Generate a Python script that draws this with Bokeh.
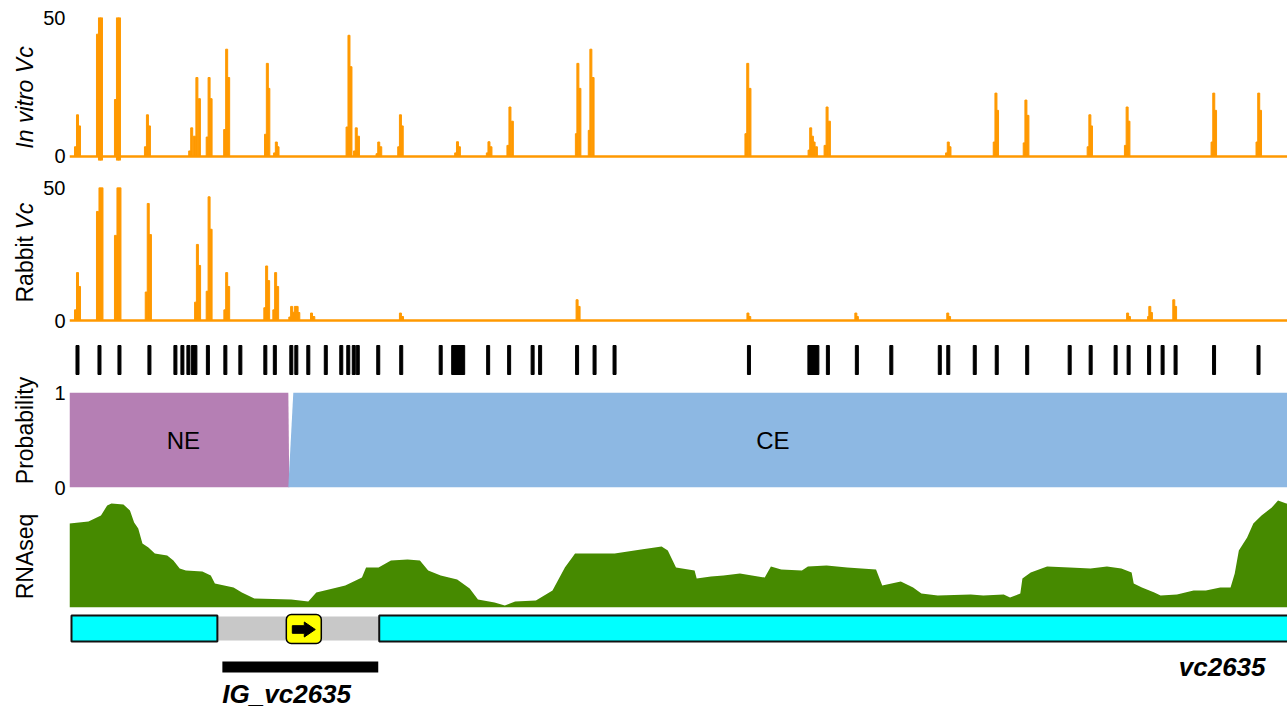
from math import pi
from bokeh.plotting import figure
from bokeh.models import Range1d, FixedTicker, Span
from bokeh.layouts import column, row
from bokeh.embed import file_html
from bokeh.resources import INLINE
from bokeh.core.properties import value

FONT = "Liberation Sans"
ORANGE = "#FF9900"
PURPLE = "#B57FB4"
BLUE = "#8DB8E3"
GREEN = "#468A00"
CYAN = "#00FFFF"
GRAY = "#C8C8C8"
YELLOW = "#FFFF00"

X_END = 1219  # locus coordinate span shown
CLIP = 50     # read-count display ceiling

# ---------------- data ----------------
# In vitro Vc insertion read counts (clipped at 50)
invitro_x = [6, 8, 10, 28, 30, 32, 46, 48, 50, 76, 78, 80,
             120.3, 122.3, 125, 127.5, 130, 137.8, 139.7, 141.7,
             155.3, 157.3, 159.3, 196.2, 198, 199.5, 205.3, 207, 208.7,
             277.8, 279.7, 281.7, 285.3, 287, 289.2, 307.8, 309.5, 311.5,
             329.5, 331.2, 333, 386.5, 388.3, 390.2, 418.2, 419.8, 421.8,
             438.8, 440.8, 443.2, 507.3, 508.8, 510.8, 520.2, 521.8, 524,
             677, 678.8, 681, 740.2, 741.8, 743.5, 745.2, 747.5,
             756.2, 758.2, 760.5, 877.8, 879.5, 881.2, 925.5, 927.2, 928.8,
             955.5, 957.2, 959.2, 1019.5, 1021.2, 1022.8, 1056.8, 1058.5, 1060.3,
             1143.5, 1145.2, 1147, 1188.5, 1190.2, 1192]
invitro_y = [3.5, 15, 11, 44, 50, 50, 20.5, 50, 50, 3.5, 15, 11,
             2, 10.3, 7.3, 28.4, 20.8, 7, 28.4, 20.8,
             9.7, 38.6, 28.4, 8, 33.5, 24.5, 1.3, 5.2, 3.5,
             10.6, 43.6, 32.3, 2, 10.3, 7.3, 1, 5.2, 3.5,
             3.5, 15, 11, 1.3, 5.3, 3.5, 1.3, 5.3, 3.5,
             4, 17.8, 12.7, 8.2, 33.5, 24.5, 9.4, 38.6, 28.4,
             8.2, 33.5, 24.5, 2.3, 10.3, 7.3, 5.2, 3.5,
             4, 17.8, 12.7, 1.3, 5.2, 3.5, 5.2, 22.8, 16.6,
             4.9, 20.3, 14.8, 3.5, 15, 11, 4, 17.8, 12.7,
             5.2, 22.8, 16.6, 5.2, 22.8, 16.6]

# Rabbit Vc insertion read counts (clipped at 50)
rabbit_x = [6, 8, 10, 28, 30.5, 32.5, 46, 48.5, 50.5, 76.8, 78.8, 81,
            126.2, 128, 130.2, 137.8, 139.7, 141.7, 155.5, 157.3, 159.3,
            195.5, 197.3, 199.3, 204.5, 206.3, 208.3, 220.5, 222.3, 224.2,
            226, 227.8, 229.5, 242.2, 244.5, 331.2, 333.3, 508, 510,
            679, 680.8, 787, 788.5, 879, 880.8, 1059, 1060.8,
            1080, 1081.2, 1082.8, 1105.2, 1107]
rabbit_y = [4, 18, 12.8, 41, 50, 50, 32, 50, 50, 10.7, 44, 32.3,
            6.9, 28.6, 20.7, 11, 46.5, 34.3, 4, 18, 12.8,
            4.8, 20.5, 15, 4, 18, 12.8, 1.3, 5.3, 3.1,
            5.3, 5.3, 3, 2.8, 1.5, 2.8, 1.5, 7.8, 5.3,
            2.8, 1.5, 2.8, 1.5, 2.8, 1.5, 2.8, 1.5,
            1.5, 5.3, 3, 7.8, 5.3]

# TA dinucleotide sites
ta_sites = [8, 30, 50, 80, 106, 113, 119, 123.5, 126, 138.5, 156, 171, 196,
            205.5, 222, 227, 239, 256.5, 272, 279, 284.5, 288.5, 309, 332,
            371.5, 384, 386, 388, 390, 392, 394, 419, 440, 463.5, 471, 508,
            525.5, 545.5, 680, 740.5, 742.5, 744.5, 746.5, 748.5, 759, 788,
            822.5, 871, 879.5, 906, 928, 958.5, 1001, 1022, 1047, 1060,
            1080.5, 1094, 1107, 1145.5, 1190]

# HMM state probabilities
ne_x = [0, 219, 220]
ne_p = [1, 1, 0]
ce_x = [219, 224, X_END]
ce_p = [0, 1, 1]
state_labels = ["NE", "CE"]
state_label_x = [114, 704]

# RNAseq coverage (relative)
rna_x = [0, 19, 31.5, 37.7, 42, 54, 60.5, 64.7, 68.8, 73, 79, 85.4, 97.8, 104,
         110.3, 116.5, 133, 141.4, 145.5, 164.2, 172.5, 185, 222, 239, 247,
         263.7, 276, 292.7, 296.8, 309.3, 321.7, 338.3, 350.7, 359, 371.5, 388,
         400.5, 408.8, 425.4, 435.7, 446, 466.8, 483.4, 495.8, 506, 545.6, 572,
         592.6, 598.8, 607, 625.6, 627.7, 642, 654.5, 671, 695.8, 702, 712.3,
         733, 739, 757.7, 778.3, 807.2, 813.4, 832, 844.3, 852.6, 869, 902,
         914.5, 935, 941.3, 951.6, 953.7, 962, 978.4, 1001, 1021.8, 1038.3,
         1052.7, 1063, 1065.1, 1073.3, 1085.7, 1092, 1108.4, 1125, 1137.3,
         1151.7, 1162, 1166.2, 1170.3, 1178.6, 1184.8, 1193, 1203.3, 1209.5,
         1217.8, 1219]
rna_y = [84, 86, 92, 102, 104, 103, 97, 85, 79, 64, 60, 54, 52, 47,
         39, 37, 36, 32, 24, 20, 15, 9, 8, 6, 15,
         19, 22, 30, 40, 40, 47, 48, 47, 37, 32, 28,
         19, 8, 5, 2, 6, 7, 17, 40, 54, 54, 58,
         61, 57, 40, 37, 29, 31, 32, 34, 30, 41, 38,
         37, 41, 42, 40, 38, 22, 26, 20, 14, 12, 13,
         12, 13, 10, 14, 29, 35, 41, 40, 39, 41,
         39, 35, 24, 20, 15, 12, 13, 17, 17,
         20, 20, 34, 57, 70, 84, 92, 100, 107,
         104, 104]

# Annotation
gene_start = [2, 310]
gene_end = [148, 1230]
ig_start, ig_end = 148, 310
ig_bar_start, ig_bar_end = 153, 309
ig_name = "IG_vc2635"
gene_name = "vc2635"
gene_label_x = 1197
srna_start, srna_end = 217, 252

# ---------------- figures ----------------
LEFT = 40          # width of the track-name column
xr = Range1d(0, X_END)


def track(height, top, bottom, y_range, yaxis_ticks=None):
    p = figure(width=1287 - LEFT, height=height, x_range=xr, y_range=y_range,
               output_backend="svg", toolbar_location=None,
               x_axis_location=None,
               y_axis_location="left" if yaxis_ticks else None,
               min_border_left=68 - LEFT, min_border_right=0,
               min_border_top=top, min_border_bottom=bottom,
               outline_line_color=None, background_fill_color="white",
               border_fill_color="white")
    p.grid.visible = False
    if yaxis_ticks:
        ax = p.yaxis[0]
        ax.ticker = FixedTicker(ticks=yaxis_ticks)
        ax.major_tick_line_color = None
        ax.minor_tick_line_color = None
        ax.axis_line_color = None
        ax.major_tick_out = 0
        ax.major_label_standoff = 4
        ax.major_label_text_font = FONT
        ax.major_label_text_font_size = "20px"
        ax.major_label_text_color = "black"
    return p


# In vitro
f1 = track(170, 17, 10, Range1d(-1.44, CLIP), [0, CLIP])
f1.vbar(x=invitro_x, width=2.0, top=invitro_y, bottom=0, color=ORANGE)
# saturated (clipped) columns spill slightly below the baseline
sat_x = [x for x, y in zip(invitro_x, invitro_y) if y >= CLIP]
f1.vbar(x=sat_x, width=2.0, top=0, bottom=-1.44, color=ORANGE)
f1.add_layout(Span(location=0, dimension="width", line_color=ORANGE, line_width=2.5))

# Rabbit
f2 = track(162, 17, 10, Range1d(-0.75, CLIP), [0, CLIP])
f2.vbar(x=rabbit_x, width=2.0, top=rabbit_y, bottom=0, color=ORANGE)
f2.add_layout(Span(location=0, dimension="width", line_color=ORANGE, line_width=2.5))

# TA sites
f3 = track(50, 0, 0, Range1d(0, 50))
f3.vbar(x=ta_sites, width=3, top=37, bottom=8, color="black")

# Probability
f4 = track(116, 10, 11, Range1d(0, 1), [0, 1])
f4.varea(x=ne_x, y1=0, y2=ne_p, fill_color=PURPLE)
f4.varea(x=ce_x, y1=0, y2=ce_p, fill_color=BLUE)
f4.text(x=state_label_x, y=[0.5, 0.5], text=state_labels, text_font=value(FONT),
        text_font_size="24px", text_align="center", text_baseline="middle",
        text_color="black")

# RNAseq
f5 = track(112, 0, 3, Range1d(0, 109))
f5.varea(x=rna_x, y1=0, y2=rna_y, fill_color=GREEN)

# Annotation
f6 = track(98, 0, 0, Range1d(0, 98))
f6.quad(left=[ig_start], right=[ig_end], top=92, bottom=68,
        fill_color=GRAY, line_color=None)
f6.quad(left=gene_start, right=gene_end, top=93, bottom=67,
        fill_color=CYAN, line_color="#111111", line_width=2)
f6.quad(left=[srna_start], right=[srna_end], top=94, bottom=65,
        fill_color=YELLOW, line_color="black", line_width=1.5, border_radius=5)
c = (srna_start + srna_end) / 2
yc = 79
f6.patch(x=[c - 11.5, c + 0.5, c + 0.5, c + 11.5, c + 0.5, c + 0.5, c - 11.5],
         y=[yc - 3.8, yc - 3.8, yc - 7.5, yc, yc + 7.5, yc + 3.8, yc + 3.8],
         fill_color="black", line_color="black")
f6.quad(left=[ig_bar_start], right=[ig_bar_end], top=47, bottom=36,
        fill_color="black", line_color=None)
f6.text(x=[ig_bar_start], y=[15], text=[ig_name], text_font=value(FONT),
        text_font_style="bold italic", text_font_size="26px",
        text_align="left", text_baseline="middle", text_color="black")
f6.text(x=[gene_label_x], y=[42], text=[gene_name], text_font=value(FONT),
        text_font_style="bold italic", text_font_size="26px",
        text_align="right", text_baseline="middle", text_color="black")

# Track-name column (rotated labels), y measured upward from page bottom
names = figure(width=LEFT, height=708, x_range=Range1d(0, LEFT), y_range=Range1d(0, 708),
               output_backend="svg", toolbar_location=None,
               x_axis_location=None, y_axis_location=None,
               min_border=0, outline_line_color=None)
names.grid.visible = False
lab_kw = dict(angle=pi / 2, text_baseline="middle", text_font=value(FONT),
              text_font_size="23px", text_color="black")
names.text(x=[24, 24], y=[278, 152], text=["Probability", "RNAseq"],
           text_align="center", **lab_kw)
names.text(x=[24], y=[611], text=["In vitro Vc"], text_align="center",
           text_font_style="italic", **lab_kw)
names.text(x=[24], y=[406], text=["Rabbit "], text_align="left", **lab_kw)
names.text(x=[24], y=[479], text=["Vc"], text_align="left",
           text_font_style="italic", **lab_kw)

layout = row(names, column(f1, f2, f3, f4, f5, f6, spacing=0), spacing=0)
open("out.html", "w").write(file_html(layout, INLINE))
